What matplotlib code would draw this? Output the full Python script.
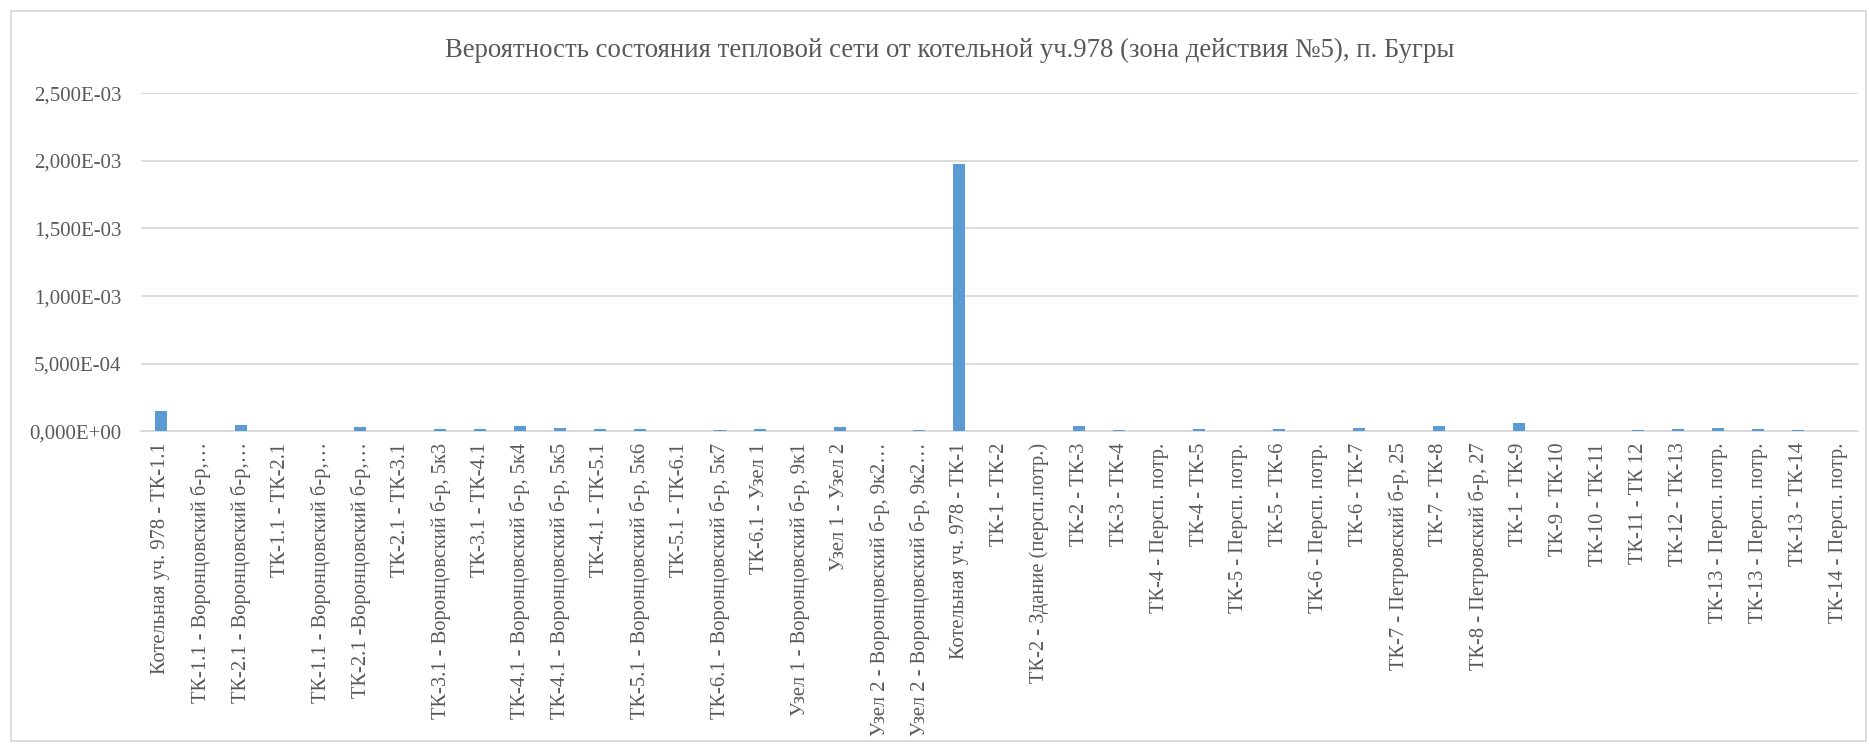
import matplotlib.pyplot as plt
import matplotlib.patches as patches
from matplotlib.ticker import FuncFormatter, MultipleLocator
import numpy as np

plt.rcParams['font.family'] = ['Liberation Serif', 'DejaVu Serif']

title = "Вероятность состояния тепловой сети от котельной уч.978 (зона действия №5), п. Бугры"

segments = [
    "Котельная уч. 978 - ТК-1.1",
    "ТК-1.1 - Воронцовский б-р,…",
    "ТК-2.1 - Воронцовский б-р,…",
    "ТК-1.1 - ТК-2.1",
    "ТК-1.1 - Воронцовский б-р,…",
    "ТК-2.1 -Воронцовский б-р,…",
    "ТК-2.1 - ТК-3.1",
    "ТК-3.1 - Воронцовский б-р, 5к3",
    "ТК-3.1 - ТК-4.1",
    "ТК-4.1 - Воронцовский б-р, 5к4",
    "ТК-4.1 - Воронцовский б-р, 5к5",
    "ТК-4.1 - ТК-5.1",
    "ТК-5.1 - Воронцовский б-р, 5к6",
    "ТК-5.1 - ТК-6.1",
    "ТК-6.1 - Воронцовский б-р, 5к7",
    "ТК-6.1 - Узел 1",
    "Узел 1 - Воронцовский б-р, 9к1",
    "Узел 1 - Узел 2",
    "Узел 2 - Воронцовский б-р, 9к2…",
    "Узел 2 - Воронцовский б-р, 9к2…",
    "Котельная уч. 978 - ТК-1",
    "ТК-1 - ТК-2",
    "ТК-2 - Здание (персп.потр.)",
    "ТК-2 - ТК-3",
    "ТК-3 - ТК-4",
    "ТК-4 - Персп. потр.",
    "ТК-4 - ТК-5",
    "ТК-5 - Персп. потр.",
    "ТК-5 - ТК-6",
    "ТК-6 - Персп. потр.",
    "ТК-6 - ТК-7",
    "ТК-7 - Петровский б-р, 25",
    "ТК-7 - ТК-8",
    "ТК-8 - Петровский б-р, 27",
    "ТК-1 - ТК-9",
    "ТК-9 - ТК-10",
    "ТК-10 - ТК-11",
    "ТК-11 - ТК 12",
    "ТК-12 - ТК-13",
    "ТК-13 - Персп. потр.",
    "ТК-13 - Персп. потр.",
    "ТК-13 - ТК-14",
    "ТК-14 - Персп. потр.",
]

probability = [
    1.52e-4, 0.0, 4.9e-5, 0.0, 0.0, 3.0e-5, 0.0, 1.6e-5, 1.6e-5, 4.2e-5,
    2.2e-5, 1.5e-5, 1.5e-5, 0.0, 6e-6, 1.8e-5, 0.0, 3.0e-5, 0.0, 7e-6,
    1.975e-3, 0.0, 0.0, 3.7e-5, 1.0e-5, 0.0, 1.7e-5, 0.0, 1.5e-5, 0.0,
    2.5e-5, 0.0, 4.2e-5, 0.0, 5.9e-5, 0.0, 0.0, 7e-6, 2.0e-5, 2.5e-5,
    1.7e-5, 1.0e-5, 0.0,
]

text_color = "#595959"
grid_color = "#d9d9d9"
bar_color = "#5b9bd5"

fig = plt.figure(figsize=(18.69, 7.44), dpi=100)
ax = fig.add_axes([0.0753, 0.4203, 0.9188, 0.4543])

x = np.arange(len(segments))
ax.bar(x, probability, width=0.3, color=bar_color, zorder=3)

ax.set_xlim(-0.5, len(segments) - 0.5)
ax.set_ylim(0, 2.5e-3)
ax.yaxis.set_major_locator(MultipleLocator(5e-4))
ax.yaxis.set_major_formatter(FuncFormatter(lambda v, p: f"{v:.3E}".replace(".", ",")))
ax.grid(axis="y", color=grid_color, linewidth=1.3, zorder=0)

for side in ["top", "right", "left"]:
    ax.spines[side].set_visible(False)
ax.spines["bottom"].set_color(grid_color)
ax.spines["bottom"].set_linewidth(1.3)

ax.set_xticks(x)
ax.set_xticklabels(segments, rotation=90, va="top", ha="center")
ax.tick_params(axis="x", length=0, pad=8, labelsize=14.8, labelcolor=text_color)
ax.tick_params(axis="y", length=0, pad=14, labelsize=15, labelcolor=text_color)

fig.text(0.508, 0.932, title, ha="center", va="center", fontsize=19.3, color=text_color)

border = patches.Rectangle((11 / 1869, 3 / 744), 1855 / 1869, 730 / 744,
                           transform=fig.transFigure, fill=False,
                           edgecolor=grid_color, linewidth=1.3)
fig.patches.append(border)

fig.savefig("out.png", dpi=100)
